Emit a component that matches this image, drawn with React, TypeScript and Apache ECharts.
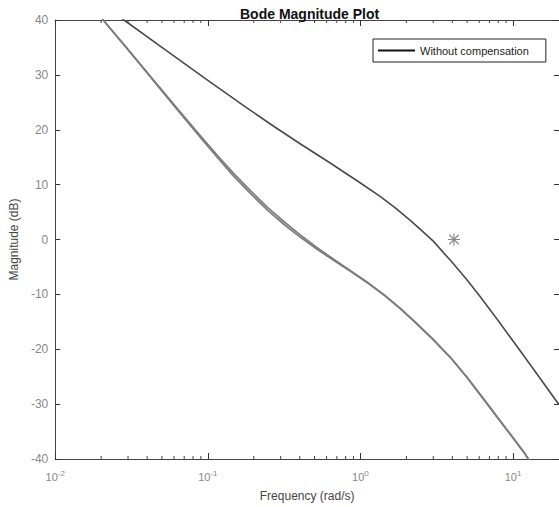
import React, { useEffect, useRef } from "react";
import * as echarts from "echarts";

// Frequency (rad/s) / magnitude (dB)
const UNCOMP_FREQ = [0.025, 0.0282, 0.05, 0.1, 0.18, 0.258, 0.4, 0.637, 1.0, 1.352, 1.7, 2.12, 2.5, 3.0, 4.0, 5.0, 6.08, 8.0, 10, 14, 20];
const UNCOMP_DB = [41, 40, 35, 29, 24, 21, 17.5, 13.9, 10.3, 7.8, 5.7, 3.5, 1.7, -0.3, -4.2, -7.4, -10.4, -14.8, -18.5, -24.1, -30.1];

const COMP1_FREQ = [0.019, 0.0206, 0.03, 0.0424, 0.06, 0.0899, 0.12, 0.148, 0.19, 0.247, 0.32, 0.405, 0.52, 0.667, 0.86, 1.11, 1.42, 1.82, 2.3, 3.0, 3.9, 5.0, 6.4, 8.22, 10, 11.97, 12.6, 13.5];
const COMP1_DB = [41.2, 40, 34.6, 29.6, 24.6, 18.8, 14.8, 12.0, 8.9, 5.8, 3.1, 0.8, -1.5, -3.6, -5.7, -7.8, -10.0, -12.5, -15.1, -18.2, -21.5, -25.1, -29.0, -33.0, -36.1, -39.0, -40.0, -41.1];

const COMP2_FREQ = [0.019, 0.0206, 0.03, 0.0424, 0.06, 0.0899, 0.12, 0.148, 0.19, 0.247, 0.32, 0.405, 0.52, 0.667, 0.86, 1.11, 1.42, 1.82, 2.3, 3.0, 3.9, 5.0, 6.4, 8.22, 10, 11.97, 12.6, 13.5];
const COMP2_DB = [41.2, 40, 34.6, 29.5, 24.4, 18.5, 14.4, 11.5, 8.4, 5.3, 2.6, 0.4, -1.8, -3.8, -5.8, -7.9, -10.1, -12.6, -15.2, -18.3, -21.6, -25.2, -29.1, -33.1, -36.2, -39.1, -40.1, -41.2];

const MARKER_FREQ = [4.1];
const MARKER_DB = [0];

const MINOR_TICKS = [
  0.02, 0.03, 0.04, 0.05, 0.06, 0.07, 0.08, 0.09,
  0.2, 0.3, 0.4, 0.5, 0.6, 0.7, 0.8, 0.9,
  2, 3, 4, 5, 6, 7, 8, 9,
];

const X_MIN = 0.01;
const X_MAX = 20;
const Y_MIN = -40;
const Y_MAX = 40;

const FONT = "'Liberation Sans', Arial, Helvetica, sans-serif";

const ASTERISK =
  "path://M9 0 L11 0 L11 20 L9 20 Z M0 9 L20 9 L20 11 L0 11 Z M1.4 2.8 L2.8 1.4 L18.6 17.2 L17.2 18.6 Z M17.2 1.4 L18.6 2.8 L2.8 18.6 L1.4 17.2 Z";

function zip(a: number[], b: number[]) {
  return a.map((v, i) => [v, b[i]]);
}

export default function App() {
  const ref = useRef<HTMLDivElement>(null);

  useEffect(() => {
    if (!ref.current) return;
    const chart = echarts.init(ref.current, undefined, { renderer: "svg" });

    const xLabel = (v: number) => {
      const l = Math.log10(v);
      const e = Math.round(l);
      if (Math.abs(l - e) > 1e-6) return "";
      return `{b|10}{s|${e}}`;
    };

    const tickStyle = { color: "#333", width: 1 };
    const axisLine = { show: true, onZero: false, lineStyle: { color: "#444", width: 1 } };

    chart.setOption({
      animation: false,
      backgroundColor: "#ffffff",
      textStyle: { fontFamily: FONT },
      title: {
        text: "Bode Magnitude Plot",
        left: 235,
        top: 2,
        textStyle: { fontFamily: FONT, fontSize: 14, fontWeight: "bold", color: "#111" },
      },
      legend: {
        data: [{ name: "Without compensation", icon: "rect" }],
        left: 373,
        top: 39,
        padding: [6, 17, 6, 5],
        itemWidth: 37,
        itemHeight: 2,
        borderColor: "#222",
        borderWidth: 1,
        backgroundColor: "#fff",
        itemStyle: { color: "#111" },
        textStyle: { fontFamily: FONT, fontSize: 11, color: "#222" },
      },
      grid: { left: 54, top: 20, right: -1, bottom: 47, containLabel: false },
      xAxis: [
        {
          type: "log",
          logBase: 10,
          min: X_MIN,
          max: X_MAX,
          position: "bottom",
          name: "Frequency (rad/s)",
          nameLocation: "middle",
          nameGap: 31,
          nameTextStyle: { fontFamily: FONT, fontSize: 12, color: "#444" },
          axisLine,
          axisTick: { show: true, inside: true, length: 6, lineStyle: tickStyle },
          splitLine: { show: false },
          axisLabel: {
            formatter: xLabel,
            margin: 10,
            showMaxLabel: false,
            rich: {
              b: { fontFamily: FONT, fontSize: 11, color: "#888" },
              s: { fontFamily: FONT, fontSize: 8, color: "#888", padding: [0, 0, 8, 0] },
            },
          },
        },
        {
          type: "log",
          logBase: 10,
          min: X_MIN,
          max: X_MAX,
          position: "top",
          axisLine,
          axisTick: { show: true, inside: true, length: 6, lineStyle: tickStyle },
          axisLabel: { show: false },
          splitLine: { show: false },
        },
      ],
      yAxis: [
        {
          type: "value",
          min: Y_MIN,
          max: Y_MAX,
          interval: 10,
          position: "left",
          name: "Magnitude (dB)",
          nameLocation: "middle",
          nameGap: 32,
          nameTextStyle: { fontFamily: FONT, fontSize: 12, color: "#444" },
          axisLine,
          axisTick: { show: true, inside: true, length: 5, lineStyle: tickStyle },
          axisLabel: { fontFamily: FONT, fontSize: 12, color: "#888", margin: 7 },
          splitLine: { show: false },
        },
        {
          type: "value",
          min: Y_MIN,
          max: Y_MAX,
          interval: 10,
          position: "right",
          axisLine,
          axisTick: { show: true, inside: true, length: 5, lineStyle: tickStyle },
          axisLabel: { show: false },
          splitLine: { show: false },
        },
      ],
      series: [
        {
          name: "Without compensation",
          type: "line",
          data: zip(UNCOMP_FREQ, UNCOMP_DB),
          symbol: "none",
          showSymbol: false,
          smooth: false,
          lineStyle: { color: "#4a4a4a", width: 1.6, join: "round" },
          itemStyle: { color: "#111" },
          z: 4,
        },
        {
          name: "Compensated A",
          type: "line",
          data: zip(COMP1_FREQ, COMP1_DB),
          symbol: "none",
          showSymbol: false,
          smooth: false,
          lineStyle: { color: "#7c7c7c", width: 1.7, join: "round" },
          z: 3,
        },
        {
          name: "Compensated B",
          type: "line",
          data: zip(COMP2_FREQ, COMP2_DB),
          symbol: "none",
          showSymbol: false,
          smooth: false,
          lineStyle: { color: "#7c7c7c", width: 1.7, join: "round" },
          z: 3,
        },
        {
          name: "Marker",
          type: "scatter",
          data: zip(MARKER_FREQ, MARKER_DB),
          symbol: ASTERISK,
          symbolSize: 12,
          itemStyle: { color: "#6e6e6e" },
          z: 5,
        },
        {
          name: "Minor ticks",
          type: "custom",
          silent: true,
          clip: false,
          data: MINOR_TICKS.map((v) => [v, 0]),
          renderItem: (_params: any, api: any) => {
            const f = api.value(0);
            const b = api.coord([f, Y_MIN]);
            const t = api.coord([f, Y_MAX]);
            return {
              type: "group",
              children: [
                {
                  type: "line",
                  shape: { x1: b[0], y1: b[1], x2: b[0], y2: b[1] - 3 },
                  style: { stroke: "#444", lineWidth: 1 },
                },
                {
                  type: "line",
                  shape: { x1: t[0], y1: t[1], x2: t[0], y2: t[1] + 3 },
                  style: { stroke: "#444", lineWidth: 1 },
                },
              ],
            };
          },
          z: 6,
        },
      ],
    });

    return () => chart.dispose();
  }, []);

  return (
    <div
      ref={ref}
      style={{ position: "fixed", left: 0, top: 0, width: 559, height: 507, background: "#fff" }}
    />
  );
}
